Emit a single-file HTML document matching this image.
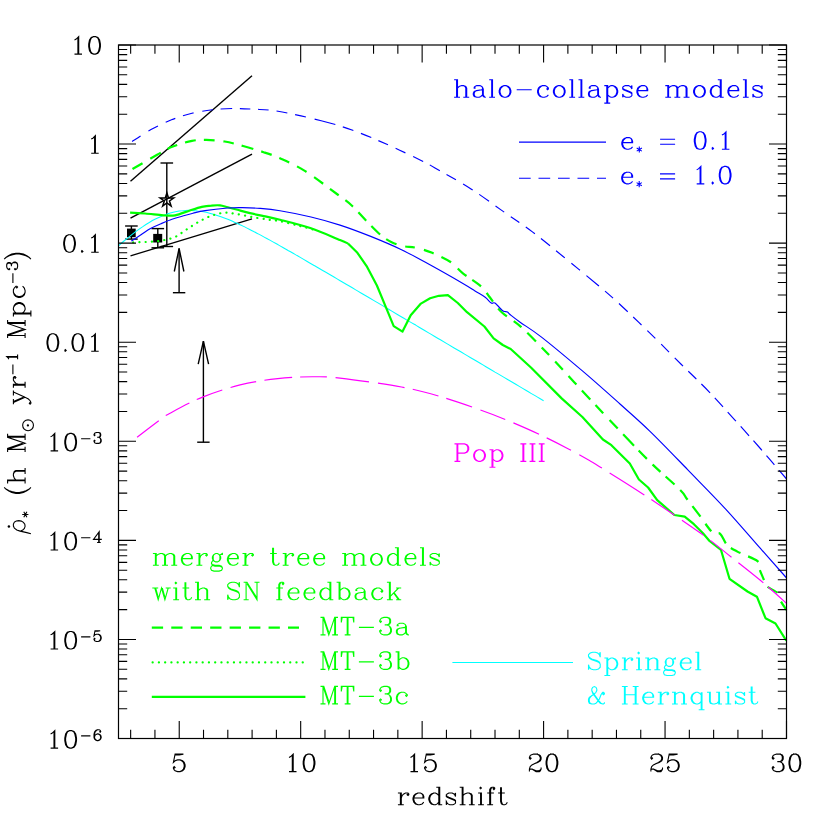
<!DOCTYPE html>
<html lang="en"><head><meta charset="utf-8"><title>Star formation rate density vs redshift</title>
<style>
html,body{margin:0;padding:0;background:#fff;}
body{width:830px;height:830px;overflow:hidden;font-family:"Liberation Serif",serif;}
#fig{position:relative;width:830px;height:830px;overflow:hidden;background:#fff;}
svg{display:block;position:absolute;left:0;top:0;font-family:"Liberation Serif",serif;}
.t{position:absolute;white-space:nowrap;font:26px/26px "Liberation Serif",serif;letter-spacing:2px;color:transparent;}
.t sup,.t sub{font-size:16px;line-height:0;}
</style></head><body>
<div id="fig">
<svg width="830" height="830" viewBox="0 0 830 830">
<rect width="830" height="830" fill="#fff"/>
<g id="data">
<line x1="130.5" y1="181.3" x2="252.0" y2="75.8" stroke="#000" stroke-width="1.4"/>
<line x1="130.5" y1="218.1" x2="252.0" y2="154.2" stroke="#000" stroke-width="1.4"/>
<line x1="130.5" y1="255.8" x2="252.0" y2="218.9" stroke="#000" stroke-width="1.4"/>
<line x1="131.4" y1="226.0" x2="131.4" y2="239.1" stroke="#000" stroke-width="1.4"/>
<line x1="125.1" y1="226.0" x2="137.7" y2="226.0" stroke="#000" stroke-width="1.4"/>
<line x1="125.1" y1="239.1" x2="137.7" y2="239.1" stroke="#000" stroke-width="1.4"/>
<rect x="127.0" y="228.6" width="8.7" height="8.6" fill="#000"/>
<line x1="157.8" y1="228.6" x2="157.8" y2="247.8" stroke="#000" stroke-width="1.4"/>
<line x1="151.5" y1="228.6" x2="164.1" y2="228.6" stroke="#000" stroke-width="1.4"/>
<line x1="151.5" y1="247.8" x2="164.1" y2="247.8" stroke="#000" stroke-width="1.4"/>
<rect x="153.2" y="233.9" width="9.0" height="8.6" fill="#000"/>
<line x1="166.8" y1="163.0" x2="166.8" y2="246.5" stroke="#000" stroke-width="1.4"/>
<line x1="160.5" y1="163.0" x2="173.1" y2="163.0" stroke="#000" stroke-width="1.4"/>
<line x1="160.5" y1="246.5" x2="173.1" y2="246.5" stroke="#000" stroke-width="1.4"/>
<polygon points="166.9 193.0 168.5 198.0 173.7 198.0 169.5 201.0 171.1 206.0 166.9 202.9 162.7 206.0 164.3 201.0 160.1 198.0 165.3 198.0" fill="none" stroke="#000" stroke-width="1.5"/>
<line x1="179.1" y1="292.7" x2="179.1" y2="248.5" stroke="#000" stroke-width="1.4"/>
<line x1="172.9" y1="292.7" x2="185.3" y2="292.7" stroke="#000" stroke-width="1.4"/>
<path d="M174.3 271.5L179.1 248.5L183.9 271.5" fill="none" stroke="#000" stroke-width="1.4"/>
<line x1="203.4" y1="442.2" x2="203.4" y2="341.2" stroke="#000" stroke-width="1.4"/>
<line x1="197.2" y1="442.2" x2="209.6" y2="442.2" stroke="#000" stroke-width="1.4"/>
<path d="M198.2 364.2L203.4 341.2L208.6 364.2" fill="none" stroke="#000" stroke-width="1.4"/>
</g>
<g id="curves" stroke-linejoin="round">
<path d="M118.5 245.8C119.5 244.9 122.5 242.2 124.6 240.5C126.6 238.8 128.6 237.2 130.6 235.6C132.7 233.9 134.7 232.4 136.7 230.9C138.7 229.4 140.8 227.9 142.8 226.6C144.8 225.2 146.8 223.9 148.9 222.7C150.9 221.5 152.9 220.3 154.9 219.3C157.0 218.2 159.0 217.2 161.0 216.4C163.0 215.5 165.1 214.7 167.1 214.0C169.1 213.3 171.1 212.7 173.2 212.2C175.2 211.8 177.2 211.4 179.2 211.1C181.3 210.8 183.3 210.6 185.3 210.4C187.3 210.3 189.3 210.3 191.4 210.4C193.4 210.5 195.4 210.6 197.4 210.9C199.5 211.1 201.5 211.4 203.5 211.8C205.5 212.2 207.6 212.7 209.6 213.2C211.6 213.7 213.6 214.3 215.7 214.9C217.7 215.6 219.7 216.3 221.7 217.0C223.8 217.7 225.8 218.5 227.8 219.3C229.8 220.2 231.9 221.0 233.9 221.9C235.9 222.8 237.9 223.8 240.0 224.7C242.0 225.7 244.0 226.6 246.0 227.6C248.1 228.6 250.1 229.7 252.1 230.7C254.1 231.7 256.1 232.8 258.2 233.9C260.2 234.9 262.2 236.0 264.2 237.1C266.3 238.2 268.3 239.3 270.3 240.4C272.3 241.5 274.4 242.7 276.4 243.8C278.4 244.9 280.4 246.1 282.5 247.2C284.5 248.4 286.5 249.5 288.5 250.7C290.6 251.8 292.6 253.0 294.6 254.1C296.6 255.3 298.7 256.5 300.7 257.6C302.7 258.8 304.7 260.0 306.8 261.2C308.8 262.3 310.8 263.5 312.8 264.7C314.9 265.9 316.9 267.0 318.9 268.2C320.9 269.4 322.9 270.6 325.0 271.8C327.0 273.0 329.0 274.2 331.0 275.3C333.1 276.5 335.1 277.7 337.1 278.9C339.1 280.1 341.2 281.3 343.2 282.5C345.2 283.7 347.2 284.9 349.3 286.0C351.3 287.2 353.3 288.4 355.3 289.6C357.4 290.8 359.4 292.0 361.4 293.2C363.4 294.4 365.5 295.6 367.5 296.8C369.5 298.0 371.5 299.2 373.6 300.4C375.6 301.6 377.6 302.7 379.6 303.9C381.7 305.1 383.7 306.3 385.7 307.5C387.7 308.7 389.7 309.9 391.8 311.1C393.8 312.3 395.8 313.5 397.8 314.7C399.9 315.9 401.9 317.1 403.9 318.3C405.9 319.5 408.0 320.7 410.0 321.9C412.0 323.1 414.0 324.2 416.1 325.4C418.1 326.6 420.1 327.8 422.1 329.0C424.2 330.2 426.2 331.4 428.2 332.6C430.2 333.8 432.3 335.0 434.3 336.2C436.3 337.4 438.3 338.6 440.4 339.8C442.4 341.0 444.4 342.2 446.4 343.4C448.5 344.6 450.5 345.8 452.5 347.0C454.5 348.1 456.5 349.3 458.6 350.5C460.6 351.7 462.6 352.9 464.6 354.1C466.7 355.3 468.7 356.5 470.7 357.7C472.7 358.9 474.8 360.1 476.8 361.3C478.8 362.5 480.8 363.7 482.9 364.9C484.9 366.1 486.9 367.3 488.9 368.5C491.0 369.7 493.0 370.9 495.0 372.1C497.0 373.2 499.1 374.4 501.1 375.6C503.1 376.8 505.1 378.0 507.2 379.2C509.2 380.4 511.2 381.6 513.2 382.8C515.3 384.0 517.3 385.2 519.3 386.4C521.3 387.6 523.3 388.8 525.4 390.0C527.4 391.2 529.4 392.4 531.4 393.6C533.5 394.8 535.5 396.0 537.5 397.1C539.5 398.3 542.6 400.1 543.6 400.7" fill="none" stroke="#00ffff" stroke-width="1.05"/>
<path d="M133.1 242.4C134.1 242.4 137.0 242.3 139.1 242.2C141.2 242.1 142.5 242.2 145.7 242.0C148.8 241.8 154.9 241.5 158.0 241.2C161.1 240.9 162.3 240.4 164.4 240.0C166.5 239.6 168.4 239.2 170.4 238.6C172.4 238.0 174.4 237.3 176.2 236.4C178.0 235.5 179.5 234.3 181.3 233.1C183.1 231.9 185.2 230.4 187.0 229.2C188.8 228.0 190.3 227.0 192.1 225.9C193.8 224.8 195.7 223.6 197.5 222.5C199.3 221.4 201.1 220.5 203.0 219.5C204.9 218.5 207.0 217.5 209.0 216.7C211.0 215.9 212.4 215.4 215.0 214.7C217.6 214.0 221.0 212.8 224.7 212.7C228.4 212.6 232.2 213.2 237.0 214.0C241.8 214.8 247.9 216.3 253.4 217.3C258.9 218.3 265.4 219.2 269.8 219.8C274.2 220.5 275.0 220.2 280.0 221.2C285.0 222.2 293.7 224.4 300.0 226.0C306.3 227.6 315.0 230.2 318.0 231.0" fill="none" stroke="#00ff00" stroke-width="2.2" stroke-dasharray="0.1 6.16" stroke-linecap="round"/>
<path d="M132.5 169.0C135.6 167.2 144.5 162.0 151.0 158.3C157.5 154.7 164.7 150.0 171.5 147.1C178.3 144.2 186.2 142.1 192.0 140.9C197.8 139.7 200.9 139.8 206.3 139.9C211.8 140.0 218.6 140.5 224.7 141.5C230.8 142.5 236.6 144.2 243.1 146.0C249.6 147.8 257.5 150.1 263.6 152.2C269.8 154.2 273.1 155.2 280.0 158.3C286.9 161.4 295.2 164.9 304.8 170.9C314.4 176.9 329.7 188.7 337.6 194.5C345.5 200.3 347.3 201.4 352.0 205.7C356.7 210.0 361.4 215.8 366.0 220.5C370.6 225.2 375.3 230.4 379.5 234.0C383.7 237.6 387.2 240.1 391.2 242.1C395.2 244.1 399.4 245.3 403.5 246.2C407.6 247.1 411.0 246.6 415.8 247.7C420.6 248.8 426.4 250.4 432.2 252.8C438.0 255.2 445.5 258.6 450.6 262.0C455.7 265.4 457.8 269.2 462.9 273.3C468.0 277.4 476.8 282.6 481.3 286.6C485.8 290.6 486.6 293.2 490.0 297.5C493.4 301.8 496.8 307.6 502.0 312.5C507.2 317.4 513.4 320.1 521.0 326.9C528.6 333.7 538.7 344.3 547.6 353.5C556.5 362.7 565.0 372.3 574.2 382.2C583.4 392.1 593.5 402.9 602.9 412.9C612.3 422.9 622.2 433.4 630.5 442.0C638.8 450.6 644.4 456.6 652.7 464.6C661.0 472.6 674.4 484.1 680.1 489.8C685.8 495.5 684.0 495.0 687.0 499.0C690.0 503.0 694.2 508.4 698.4 513.9C702.6 519.4 708.6 528.9 712.2 532.2C715.8 535.5 717.7 531.7 720.2 533.8C722.7 535.9 724.1 541.8 727.0 544.8C729.9 547.8 732.3 548.9 737.4 551.6C742.5 554.4 754.1 558.3 757.8 561.3C761.5 564.3 758.6 566.4 759.6 569.4C760.6 572.4 762.7 576.7 763.6 579.2C764.5 581.7 764.6 583.1 765.2 584.3C765.8 585.5 765.1 585.3 767.0 586.6C768.9 587.9 774.7 590.8 776.6 592.2C778.5 593.6 777.9 593.3 778.6 594.8C779.3 596.3 779.4 598.6 780.7 601.1C782.0 603.6 785.5 608.5 786.4 610.0" fill="none" stroke="#00ff00" stroke-width="2.2" stroke-dasharray="11.6 8.9 12.2 7.6 10.5 8.0 10.9 8.6 10.6 8.8 10.8 8.0 12.1 8.1 11.2 8.3 11.0 8.6 11.2 9.0 11.1 8.5 10.7 8.4 10.1 7.8 11.4 7.5 12.1 7.7 11.6 8.9 9.8 9.3 10.5 8.4 11.0 9.2 11.6 6.9 10.8 8.7 10.9 8.6 11.8 8.3 9.8 8.0 12.3 8.2 10.7 9.0 11.4 8.4 11.5 8.1 12.2 7.5 11.4 9.2 11.8 7.6 15.7 6.8 12.3 7.7 10.8 6.9 12.0 7.8 12.5 7.9 13.4 8.5 9.4 8.3 12.6 7.0 11.1 8.1 11.6 8.9 10.6 8.2 11.2 10.0 10.5"/>
<path d="M130.1 212.7C132.6 212.8 139.6 213.1 145.1 213.5C150.6 213.9 158.2 215.0 163.2 215.3C168.2 215.6 170.8 216.1 175.2 215.3C179.5 214.5 184.9 212.1 189.3 210.7C193.7 209.3 198.1 207.8 201.8 206.9C205.5 206.1 208.4 205.8 211.4 205.6C214.4 205.3 217.4 205.1 220.1 205.4C222.8 205.7 224.9 206.6 227.8 207.3C230.7 208.0 233.8 208.8 237.5 209.8C241.2 210.8 245.7 212.1 250.0 213.1C254.3 214.1 258.6 215.0 263.6 216.1C268.6 217.2 272.1 217.8 280.0 219.8C287.9 221.8 301.0 224.9 311.0 228.3C321.0 231.7 333.8 237.5 340.0 240.0C346.2 242.5 346.7 242.9 348.0 243.5" fill="none" stroke="#00ff00" stroke-width="2.2"/>
<path d="M348.0 243.5L357.4 252.8L366.6 266.1L376.9 285.5L387.1 310.1L393.7 326.1L402.5 331.6L410.7 315.2L420.9 303.6L430.1 298.2L438.9 295.8L447.9 295.2L457.8 303.0L467.0 312.2L484.4 326.5L493.6 338.4L502.8 345.0L510.7 349.0L531.2 367.8L561.9 398.6L582.4 417.0L602.9 439.5L611.4 445.2L629.8 463.5L638.9 479.5L648.1 487.5L657.2 500.1L674.4 515.0L684.7 516.6L693.9 524.2L703.0 533.3L709.5 541.0L721.0 550.0L729.5 578.8L747.5 591.5L756.9 596.7L765.5 618.2L775.5 623.5L786.3 640.7" fill="none" stroke="#00ff00" stroke-width="2.2"/>
<path d="M131.3 241.1C132.9 240.0 137.8 236.8 141.0 234.7C144.2 232.6 147.2 230.2 150.5 228.4C153.8 226.6 157.4 225.2 161.0 223.7C164.6 222.2 168.4 220.6 172.0 219.3C175.6 218.0 179.3 217.0 182.8 216.0C186.3 215.0 189.3 214.1 193.0 213.2C196.7 212.3 199.2 211.5 205.0 210.6C210.8 209.7 221.6 208.5 227.8 208.0C234.0 207.5 236.9 207.5 242.3 207.6C247.7 207.7 253.7 207.9 260.0 208.4C266.3 208.9 271.5 209.3 280.0 210.7C288.5 212.1 301.0 214.6 311.0 217.0C321.0 219.4 330.1 221.9 340.0 225.1C349.9 228.3 360.4 232.3 370.7 236.4C380.9 240.5 391.2 244.8 401.5 249.7C411.8 254.6 422.0 260.5 432.2 266.1C442.4 271.7 455.8 279.4 462.9 283.5C470.0 287.6 471.3 288.7 475.0 291.0C478.7 293.3 482.5 295.3 485.2 297.3C487.9 299.3 489.7 302.1 491.3 303.1C492.9 304.1 493.1 301.9 494.9 303.1C496.7 304.3 500.5 308.9 502.1 310.3C503.7 311.7 503.6 311.2 504.5 311.5C505.4 311.8 506.4 311.5 507.5 312.1C508.6 312.8 508.9 313.6 511.1 315.4C513.3 317.2 515.7 319.1 520.8 322.7C525.9 326.3 531.2 329.1 541.5 337.1C551.8 345.1 569.3 359.8 582.4 370.9C595.5 382.0 608.7 393.9 620.0 404.0C631.3 414.1 638.7 420.4 650.0 431.3C661.3 442.2 675.0 456.6 687.6 469.6C700.2 482.6 713.8 496.2 725.9 509.3C738.0 522.4 750.1 536.8 760.2 548.2C770.3 559.7 782.2 573.0 786.6 578.0" fill="none" stroke="#0000ff" stroke-width="1.15"/>
<path d="M132.1 141.5C135.2 139.5 144.4 133.2 151.0 129.6C157.6 126.0 164.7 122.5 171.5 119.8C178.3 117.1 185.2 115.0 192.0 113.3C198.8 111.6 205.6 110.6 212.4 109.8C219.2 109.0 226.1 108.6 232.9 108.5C239.7 108.4 245.9 108.8 253.4 109.2C260.9 109.7 266.7 109.3 278.0 111.2C289.3 113.1 308.9 117.6 321.2 120.7C333.5 123.8 341.1 126.1 352.0 130.0C362.9 133.9 375.2 139.2 386.8 144.3C398.4 149.4 413.6 156.8 421.6 160.7C429.6 164.6 426.8 163.2 435.0 167.9C443.2 172.6 459.9 181.8 471.0 188.9C482.1 196.0 491.5 203.2 501.7 210.4C511.9 217.6 522.2 224.2 532.4 231.9C542.6 239.6 552.2 247.6 563.1 256.5C574.0 265.4 588.5 277.2 598.0 285.2C607.5 293.2 610.5 295.7 620.0 304.5C629.5 313.3 644.6 327.9 654.8 337.9C665.0 347.9 672.3 355.5 681.4 364.5C690.5 373.5 700.2 382.6 709.1 391.8C718.0 401.0 726.1 410.3 734.7 419.8C743.3 429.3 754.3 441.6 760.8 449.0C767.3 456.4 769.3 458.9 773.6 463.9C777.9 468.9 784.4 476.5 786.6 479.0" fill="none" stroke="#0000ff" stroke-width="1.15" stroke-dasharray="10.1 9.1 11.0 8.5 10.4 8.1 11.0 8.9 10.7 7.7 11.6 7.7 10.6 7.7 10.6 8.0 10.9 8.0 10.9 8.8 21.6 8.1 11.0 8.2 11.0 7.7 10.6 8.5 10.6 8.5 11.1 7.7 11.8 7.5 10.7 8.2 11.3 7.8 12.2 8.0 10.6 8.0 10.4 7.9 11.3 7.7 11.7 7.9 11.2 8.4 11.1 8.2 16.3 8.0 10.8 8.1 11.9 7.6 11.4 8.1 11.2 8.2 11.2 8.2 11.6 7.4 11.2 7.0 12.4 6.8 12.3 7.0 12.4 7.2 12.3 6.5 12.7 7.0 12.5 7.2 11.6"/>
<path d="M137.1 437.2C140.7 434.4 153.8 424.5 158.9 420.7C164.0 416.9 160.5 418.3 167.8 414.4C175.1 410.5 190.4 402.0 202.5 397.1C214.6 392.2 227.6 388.0 240.1 384.9C252.6 381.8 265.6 380.0 277.7 378.6C289.8 377.2 302.0 376.9 312.4 376.8C322.8 376.7 325.1 376.4 340.0 378.1C354.9 379.8 384.8 383.9 401.5 387.0C418.2 390.1 426.9 392.7 440.0 396.5C453.1 400.3 468.9 405.9 480.0 409.8C491.1 413.7 496.7 415.9 506.6 420.0C516.5 424.1 529.2 429.6 539.4 434.4C549.6 439.2 559.8 444.4 568.0 448.7C576.2 453.0 583.3 457.0 588.6 460.0C593.9 463.0 590.9 461.2 600.0 466.9C609.1 472.6 626.7 483.3 643.5 494.4C660.3 505.5 686.0 522.8 700.7 533.3C715.4 543.8 721.7 549.6 731.6 557.4C741.5 565.2 751.1 572.6 760.3 580.3C769.5 588.0 782.2 599.5 786.6 603.4" fill="none" stroke="#ff00ff" stroke-width="1.15" stroke-dasharray="27.1 8.9 26.7 8.0 27.4 8.6 26.3 8.3 27.9 7.9 27.1 8.6 33.7 8.9 26.8 8.6 26.7 8.3 26.9 8.9 26.7 9.1 27.7 8.4 27.2 9.6 26.6 8.9 41.1 8.6 27.6 8.8 26.3 8.7 27.1 8.6 32.5 6.3 24.5"/>
<path d="M519 142.1H606" fill="none" stroke="#0000ff" stroke-width="1.15"/>
<path d="M519 178.2H606" fill="none" stroke="#0000ff" stroke-width="1.15" stroke-dasharray="11.7 7.8"/>
<path d="M151.8 627.6H299" fill="none" stroke="#00ff00" stroke-width="2.2" stroke-dasharray="11.3 8.16"/>
<path d="M152.6 662.4H303" fill="none" stroke="#00ff00" stroke-width="2.2" stroke-dasharray="0.1 6.154" stroke-linecap="round"/>
<path d="M151.8 696.8H305.4" fill="none" stroke="#00ff00" stroke-width="2.2"/>
<path d="M452.4 662.5H573" fill="none" stroke="#00ffff" stroke-width="1.05"/>
</g>
<g id="axes">
<rect x="118.5" y="45.0" width="668.0" height="693.5" fill="none" stroke="#000" stroke-width="1.2"/>
<path d="M130.65 45.0v8.7M130.65 738.5v-8.7M154.94 45.0v8.7M154.94 738.5v-8.7M179.23 45.0v17.5M179.23 738.5v-17.5M203.52 45.0v8.7M203.52 738.5v-8.7M227.81 45.0v8.7M227.81 738.5v-8.7M252.10 45.0v8.7M252.10 738.5v-8.7M276.39 45.0v8.7M276.39 738.5v-8.7M300.68 45.0v17.5M300.68 738.5v-17.5M324.97 45.0v8.7M324.97 738.5v-8.7M349.26 45.0v8.7M349.26 738.5v-8.7M373.55 45.0v8.7M373.55 738.5v-8.7M397.85 45.0v8.7M397.85 738.5v-8.7M422.14 45.0v17.5M422.14 738.5v-17.5M446.43 45.0v8.7M446.43 738.5v-8.7M470.72 45.0v8.7M470.72 738.5v-8.7M495.01 45.0v8.7M495.01 738.5v-8.7M519.30 45.0v8.7M519.30 738.5v-8.7M543.59 45.0v17.5M543.59 738.5v-17.5M567.88 45.0v8.7M567.88 738.5v-8.7M592.17 45.0v8.7M592.17 738.5v-8.7M616.46 45.0v8.7M616.46 738.5v-8.7M640.75 45.0v8.7M640.75 738.5v-8.7M665.05 45.0v17.5M665.05 738.5v-17.5M689.34 45.0v8.7M689.34 738.5v-8.7M713.63 45.0v8.7M713.63 738.5v-8.7M737.92 45.0v8.7M737.92 738.5v-8.7M762.21 45.0v8.7M762.21 738.5v-8.7M786.50 45.0v17.5M786.50 738.5v-17.5M118.5 45.00h17.5M786.5 45.00h-17.5M118.5 114.25h8.7M786.5 114.25h-8.7M118.5 96.80h8.7M786.5 96.80h-8.7M118.5 84.42h8.7M786.5 84.42h-8.7M118.5 74.82h8.7M786.5 74.82h-8.7M118.5 66.98h8.7M786.5 66.98h-8.7M118.5 60.35h8.7M786.5 60.35h-8.7M118.5 54.60h8.7M786.5 54.60h-8.7M118.5 49.53h8.7M786.5 49.53h-8.7M118.5 144.07h17.5M786.5 144.07h-17.5M118.5 213.32h8.7M786.5 213.32h-8.7M118.5 195.87h8.7M786.5 195.87h-8.7M118.5 183.50h8.7M786.5 183.50h-8.7M118.5 173.89h8.7M786.5 173.89h-8.7M118.5 166.05h8.7M786.5 166.05h-8.7M118.5 159.42h8.7M786.5 159.42h-8.7M118.5 153.67h8.7M786.5 153.67h-8.7M118.5 148.60h8.7M786.5 148.60h-8.7M118.5 243.14h17.5M786.5 243.14h-17.5M118.5 312.39h8.7M786.5 312.39h-8.7M118.5 294.95h8.7M786.5 294.95h-8.7M118.5 282.57h8.7M786.5 282.57h-8.7M118.5 272.97h8.7M786.5 272.97h-8.7M118.5 265.12h8.7M786.5 265.12h-8.7M118.5 258.49h8.7M786.5 258.49h-8.7M118.5 252.74h8.7M786.5 252.74h-8.7M118.5 247.68h8.7M786.5 247.68h-8.7M118.5 342.21h17.5M786.5 342.21h-17.5M118.5 411.46h8.7M786.5 411.46h-8.7M118.5 394.02h8.7M786.5 394.02h-8.7M118.5 381.64h8.7M786.5 381.64h-8.7M118.5 372.04h8.7M786.5 372.04h-8.7M118.5 364.19h8.7M786.5 364.19h-8.7M118.5 357.56h8.7M786.5 357.56h-8.7M118.5 351.82h8.7M786.5 351.82h-8.7M118.5 346.75h8.7M786.5 346.75h-8.7M118.5 441.29h17.5M786.5 441.29h-17.5M118.5 510.53h8.7M786.5 510.53h-8.7M118.5 493.09h8.7M786.5 493.09h-8.7M118.5 480.71h8.7M786.5 480.71h-8.7M118.5 471.11h8.7M786.5 471.11h-8.7M118.5 463.26h8.7M786.5 463.26h-8.7M118.5 456.63h8.7M786.5 456.63h-8.7M118.5 450.89h8.7M786.5 450.89h-8.7M118.5 445.82h8.7M786.5 445.82h-8.7M118.5 540.36h17.5M786.5 540.36h-17.5M118.5 609.61h8.7M786.5 609.61h-8.7M118.5 592.16h8.7M786.5 592.16h-8.7M118.5 579.78h8.7M786.5 579.78h-8.7M118.5 570.18h8.7M786.5 570.18h-8.7M118.5 562.34h8.7M786.5 562.34h-8.7M118.5 555.70h8.7M786.5 555.70h-8.7M118.5 549.96h8.7M786.5 549.96h-8.7M118.5 544.89h8.7M786.5 544.89h-8.7M118.5 639.43h17.5M786.5 639.43h-17.5M118.5 708.68h8.7M786.5 708.68h-8.7M118.5 691.23h8.7M786.5 691.23h-8.7M118.5 678.85h8.7M786.5 678.85h-8.7M118.5 669.25h8.7M786.5 669.25h-8.7M118.5 661.41h8.7M786.5 661.41h-8.7M118.5 654.77h8.7M786.5 654.77h-8.7M118.5 649.03h8.7M786.5 649.03h-8.7M118.5 643.96h8.7M786.5 643.96h-8.7M118.5 738.50h17.5M786.5 738.50h-17.5" stroke="#000" stroke-width="1.1" fill="none"/>
</g>
<g id="labels">
<g fill="none" stroke="#000000" stroke-width="1.1" stroke-linecap="butt" stroke-linejoin="miter"><title>redshift | 5 | 10 | 15 | 20 | 25 | 30 | 10 | 1 | 0.1 | 0.01 | 10^−3 | 10^−4 | 10^−5 | 10^−6 | ρ̇* (h M⊙ yr^−1 Mpc^−3)</title><path d="M400.4 793.0L400.4 804.7M401.3 804.7L401.3 793.0L397.9 793.0M397.9 804.7L403.8 804.7M401.3 798.0L402.1 795.5L403.8 793.9L405.5 793.0L408.0 793.0L408.8 793.9L408.8 794.7L408.0 795.5L407.1 794.7L408.0 793.9M423.0 798.0L423.0 795.5L422.1 793.9L420.5 793.0L418.0 793.0L415.5 793.9L413.8 795.5L413.0 798.0L413.0 799.7L413.8 802.2L415.5 803.9L418.0 804.7L419.6 804.7L422.1 803.9L423.8 802.2M413.8 798.0L423.8 798.0L423.8 796.4L423.0 794.7L422.1 793.9M413.8 798.0L414.6 795.5L416.3 793.9L418.0 793.0M413.8 798.0L413.8 799.7L414.6 802.2L416.3 803.9L418.0 804.7M438.8 787.2L438.8 804.7L442.2 804.7M439.7 804.7L439.7 787.2L436.3 787.2M438.8 795.5L437.2 793.9L435.5 793.0L433.8 793.0L431.3 793.9L429.7 795.5L428.8 798.0L428.8 799.7L429.7 802.2L431.3 803.9L433.8 804.7L435.5 804.7L437.2 803.9L438.8 802.2M433.8 793.0L432.2 793.9L430.5 795.5L429.7 798.0L429.7 799.7L430.5 802.2L432.2 803.9L433.8 804.7M446.3 795.5L447.2 796.4L448.8 797.2L453.0 798.9L454.7 799.7L455.5 800.5L455.5 803.0L454.7 803.9L453.0 804.7L449.7 804.7L448.0 803.9L447.2 803.0L446.3 801.4L446.3 804.7L447.2 803.0M455.5 801.4L454.7 800.5L453.0 799.7L448.8 798.0L447.2 797.2L446.3 796.4L446.3 794.7L447.2 793.9L448.8 793.0L452.2 793.0L453.9 793.9L454.7 794.7L455.5 796.4L455.5 793.0L454.7 794.7M462.2 787.2L462.2 804.7M463.0 804.7L463.0 787.2L459.7 787.2M471.4 804.7L471.4 795.5L470.5 793.9L468.9 793.0L467.2 793.0L464.7 793.9L463.0 795.5M472.2 804.7L472.2 795.5L471.4 793.9L468.9 793.0M459.7 804.7L465.5 804.7M468.9 804.7L474.7 804.7M480.6 793.0L480.6 804.7M481.4 804.7L481.4 793.0L478.1 793.0M478.1 804.7L483.9 804.7M479.7 788.0L480.6 787.2L481.4 788.0L480.6 788.8L479.7 788.0M489.7 804.7L489.7 789.7L490.6 788.0L492.2 787.2L493.9 787.2L494.7 788.0L494.7 788.8L493.9 789.7L493.1 788.8L493.9 788.0M490.6 804.7L490.6 789.7L491.4 788.0L492.2 787.2M487.2 793.0L493.9 793.0M487.2 804.7L493.1 804.7M500.6 787.2L500.6 801.4L501.4 803.9L503.1 804.7L504.8 804.7L506.4 803.9L507.3 802.2M501.4 787.2L501.4 801.4L502.3 803.9L503.1 804.7M498.1 793.0L504.8 793.0M175.1 754.9L179.2 754.9L183.4 754.1L175.1 754.1L173.4 762.4L175.1 760.8L177.6 759.9L180.1 759.9L182.6 760.8L184.2 762.4L185.1 764.9L185.1 766.6L184.2 769.1L182.6 770.8L180.1 771.6L177.6 771.6L175.1 770.8L174.2 769.9L173.4 768.3L173.4 767.4L174.2 766.6L175.1 767.4L174.2 768.3M180.1 759.9L181.7 760.8L183.4 762.4L184.2 764.9L184.2 766.6L183.4 769.1L181.7 770.8L180.1 771.6M293.2 771.6L293.2 754.1L290.7 756.6L289.0 757.4M292.3 754.9L292.3 771.6M289.0 771.6L296.5 771.6M308.2 754.1L305.7 754.9L304.0 757.4L303.2 761.6L303.2 764.1L304.0 768.3L305.7 770.8L308.2 771.6L309.9 771.6L312.4 770.8L314.0 768.3L314.9 764.1L314.9 761.6L314.0 757.4L312.4 754.9L309.9 754.1L308.2 754.1L306.5 754.9L305.7 755.7L304.9 757.4L304.0 761.6L304.0 764.1L304.9 768.3L305.7 769.9L306.5 770.8L308.2 771.6M309.9 754.1L311.5 754.9L312.4 755.7L313.2 757.4L314.0 761.6L314.0 764.1L313.2 768.3L312.4 769.9L311.5 770.8L309.9 771.6M414.6 771.6L414.6 754.1L412.1 756.6L410.5 757.4M413.8 754.9L413.8 771.6M410.5 771.6L418.0 771.6M426.3 754.9L430.5 754.9L434.7 754.1L426.3 754.1L424.6 762.4L426.3 760.8L428.8 759.9L431.3 759.9L433.8 760.8L435.5 762.4L436.3 764.9L436.3 766.6L435.5 769.1L433.8 770.8L431.3 771.6L428.8 771.6L426.3 770.8L425.5 769.9L424.6 768.3L424.6 767.4L425.5 766.6L426.3 767.4L425.5 768.3M431.3 759.9L433.0 760.8L434.7 762.4L435.5 764.9L435.5 766.6L434.7 769.1L433.0 770.8L431.3 771.6M533.6 764.1L537.7 762.4L540.3 760.8L541.1 759.1L541.1 757.4L540.3 755.7L539.4 754.9L536.9 754.1L533.6 754.1L531.1 754.9L530.2 755.7L529.4 757.4L529.4 758.2L530.2 759.1L531.1 758.2L530.2 757.4M529.4 771.6L529.4 769.1L530.2 766.6L531.9 764.9L536.9 762.4L539.4 760.8L540.3 759.1L540.3 757.4L539.4 755.7L538.6 754.9L536.9 754.1M541.1 767.4L541.1 769.1L540.3 770.8L539.4 771.6L536.1 771.6L531.9 769.1L530.2 769.1L529.4 769.9M531.9 769.1L536.1 770.8L538.6 770.8L540.3 769.9L541.1 769.1M551.1 754.1L548.6 754.9L546.9 757.4L546.1 761.6L546.1 764.1L546.9 768.3L548.6 770.8L551.1 771.6L552.8 771.6L555.3 770.8L556.9 768.3L557.8 764.1L557.8 761.6L556.9 757.4L555.3 754.9L552.8 754.1L551.1 754.1L549.4 754.9L548.6 755.7L547.8 757.4L546.9 761.6L546.9 764.1L547.8 768.3L548.6 769.9L549.4 770.8L551.1 771.6M552.8 754.1L554.4 754.9L555.3 755.7L556.1 757.4L556.9 761.6L556.9 764.1L556.1 768.3L555.3 769.9L554.4 770.8L552.8 771.6M655.0 764.1L659.2 762.4L661.7 760.8L662.5 759.1L662.5 757.4L661.7 755.7L660.9 754.9L658.4 754.1L655.0 754.1L652.5 754.9L651.7 755.7L650.9 757.4L650.9 758.2L651.7 759.1L652.5 758.2L651.7 757.4M650.9 771.6L650.9 769.1L651.7 766.6L653.4 764.9L658.4 762.4L660.9 760.8L661.7 759.1L661.7 757.4L660.9 755.7L660.0 754.9L658.4 754.1M662.5 767.4L662.5 769.1L661.7 770.8L660.9 771.6L657.5 771.6L653.4 769.1L651.7 769.1L650.9 769.9M653.4 769.1L657.5 770.8L660.0 770.8L661.7 769.9L662.5 769.1M669.2 754.9L673.4 754.9L677.6 754.1L669.2 754.1L667.5 762.4L669.2 760.8L671.7 759.9L674.2 759.9L676.7 760.8L678.4 762.4L679.2 764.9L679.2 766.6L678.4 769.1L676.7 770.8L674.2 771.6L671.7 771.6L669.2 770.8L668.4 769.9L667.5 768.3L667.5 767.4L668.4 766.6L669.2 767.4L668.4 768.3M674.2 759.9L675.9 760.8L677.6 762.4L678.4 764.9L678.4 766.6L677.6 769.1L675.9 770.8L674.2 771.6M782.3 763.3L783.2 765.8L783.2 768.3L782.3 769.9L781.5 770.8L779.8 771.6L776.5 771.6L774.0 770.8L773.1 769.9L772.3 768.3L772.3 767.4L773.1 766.6L774.0 767.4L773.1 768.3M777.3 761.6L779.8 761.6L782.3 760.8L783.2 759.1L783.2 756.6L782.3 754.9L779.8 754.1L776.5 754.1L774.0 754.9L773.1 755.7L772.3 757.4L772.3 758.2L773.1 759.1L774.0 758.2L773.1 757.4M779.8 754.1L781.5 754.9L782.3 756.6L782.3 759.1L781.5 760.8L779.8 761.6L781.5 762.4L783.2 764.1L784.0 765.8L784.0 768.3L783.2 769.9L782.3 770.8L779.8 771.6M794.0 754.1L791.5 754.9L789.8 757.4L789.0 761.6L789.0 764.1L789.8 768.3L791.5 770.8L794.0 771.6L795.7 771.6L798.2 770.8L799.9 768.3L800.7 764.1L800.7 761.6L799.9 757.4L798.2 754.9L795.7 754.1L794.0 754.1L792.3 754.9L791.5 755.7L790.7 757.4L789.8 761.6L789.8 764.1L790.7 768.3L791.5 769.9L792.3 770.8L794.0 771.6M795.7 754.1L797.3 754.9L798.2 755.7L799.0 757.4L799.9 761.6L799.9 764.1L799.0 768.3L798.2 769.9L797.3 770.8L795.7 771.6M78.7 54.1L78.7 36.6L76.2 39.1L74.5 39.9M77.9 37.4L77.9 54.1M74.5 54.1L82.0 54.1M93.7 36.6L91.2 37.4L89.5 39.9L88.7 44.1L88.7 46.6L89.5 50.8L91.2 53.3L93.7 54.1L95.4 54.1L97.9 53.3L99.6 50.8L100.4 46.6L100.4 44.1L99.6 39.9L97.9 37.4L95.4 36.6L93.7 36.6L92.1 37.4L91.2 38.2L90.4 39.9L89.5 44.1L89.5 46.6L90.4 50.8L91.2 52.4L92.1 53.3L93.7 54.1M95.4 36.6L97.1 37.4L97.9 38.2L98.7 39.9L99.6 44.1L99.6 46.6L98.7 50.8L97.9 52.4L97.1 53.3L95.4 54.1M95.4 153.2L95.4 135.6L92.9 138.2L91.2 139.0M94.6 136.5L94.6 153.2M91.2 153.2L98.7 153.2M68.7 234.7L66.2 235.6L64.5 238.1L63.7 242.2L63.7 244.7L64.5 248.9L66.2 251.4L68.7 252.2L70.4 252.2L72.9 251.4L74.5 248.9L75.4 244.7L75.4 242.2L74.5 238.1L72.9 235.6L70.4 234.7L68.7 234.7L67.0 235.6L66.2 236.4L65.3 238.1L64.5 242.2L64.5 244.7L65.3 248.9L66.2 250.6L67.0 251.4L68.7 252.2M70.4 234.7L72.0 235.6L72.9 236.4L73.7 238.1L74.5 242.2L74.5 244.7L73.7 248.9L72.9 250.6L72.0 251.4L70.4 252.2M81.2 251.4L82.0 250.6L82.9 251.4L82.0 252.2L81.2 251.4M95.4 252.2L95.4 234.7L92.9 237.2L91.2 238.1M94.6 235.6L94.6 252.2M91.2 252.2L98.7 252.2M52.0 333.8L49.5 334.6L47.8 337.1L47.0 341.3L47.0 343.8L47.8 348.0L49.5 350.5L52.0 351.3L53.7 351.3L56.2 350.5L57.8 348.0L58.7 343.8L58.7 341.3L57.8 337.1L56.2 334.6L53.7 333.8L52.0 333.8L50.3 334.6L49.5 335.5L48.7 337.1L47.8 341.3L47.8 343.8L48.7 348.0L49.5 349.6L50.3 350.5L52.0 351.3M53.7 333.8L55.3 334.6L56.2 335.5L57.0 337.1L57.8 341.3L57.8 343.8L57.0 348.0L56.2 349.6L55.3 350.5L53.7 351.3M64.5 350.5L65.3 349.6L66.2 350.5L65.3 351.3L64.5 350.5M77.0 333.8L74.5 334.6L72.9 337.1L72.0 341.3L72.0 343.8L72.9 348.0L74.5 350.5L77.0 351.3L78.7 351.3L81.2 350.5L82.9 348.0L83.7 343.8L83.7 341.3L82.9 337.1L81.2 334.6L78.7 333.8L77.0 333.8L75.4 334.6L74.5 335.5L73.7 337.1L72.9 341.3L72.9 343.8L73.7 348.0L74.5 349.6L75.4 350.5L77.0 351.3M78.7 333.8L80.4 334.6L81.2 335.5L82.0 337.1L82.9 341.3L82.9 343.8L82.0 348.0L81.2 349.6L80.4 350.5L78.7 351.3M95.4 351.3L95.4 333.8L92.9 336.3L91.2 337.1M94.6 334.6L94.6 351.3M91.2 351.3L98.7 351.3M54.8 450.9L54.8 433.4L52.3 435.9L50.6 436.7M54.0 434.2L54.0 450.9M50.6 450.9L58.1 450.9M69.8 433.4L67.3 434.2L65.6 436.7L64.8 440.9L64.8 443.4L65.6 447.5L67.3 450.1L69.8 450.9L71.5 450.9L74.0 450.1L75.7 447.5L76.5 443.4L76.5 440.9L75.7 436.7L74.0 434.2L71.5 433.4L69.8 433.4L68.2 434.2L67.3 435.0L66.5 436.7L65.6 440.9L65.6 443.4L66.5 447.5L67.3 449.2L68.2 450.1L69.8 450.9M71.5 433.4L73.2 434.2L74.0 435.0L74.8 436.7L75.7 440.9L75.7 443.4L74.8 447.5L74.0 449.2L73.2 450.1L71.5 450.9M81.1 438.7L90.4 438.7M100.2 438.2L100.7 439.8L100.7 441.3L100.2 442.4L99.7 442.9L98.7 443.4L96.6 443.4L95.0 442.9L94.5 442.4L94.0 441.3L94.0 440.8L94.5 440.3L95.0 440.8L94.5 441.3M97.1 437.2L98.7 437.2L100.2 436.7L100.7 435.6L100.7 434.1L100.2 433.0L98.7 432.5L96.6 432.5L95.0 433.0L94.5 433.6L94.0 434.6L94.0 435.1L94.5 435.6L95.0 435.1L94.5 434.6M98.7 432.5L99.7 433.0L100.2 434.1L100.2 435.6L99.7 436.7L98.7 437.2L99.7 437.7L100.7 438.7L101.2 439.8L101.2 441.3L100.7 442.4L100.2 442.9L98.7 443.4M54.8 550.0L54.8 532.4L52.3 534.9L50.6 535.8M54.0 533.3L54.0 550.0M50.6 550.0L58.1 550.0M69.8 532.4L67.3 533.3L65.6 535.8L64.8 539.9L64.8 542.4L65.6 546.6L67.3 549.1L69.8 550.0L71.5 550.0L74.0 549.1L75.7 546.6L76.5 542.4L76.5 539.9L75.7 535.8L74.0 533.3L71.5 532.4L69.8 532.4L68.2 533.3L67.3 534.1L66.5 535.8L65.6 539.9L65.6 542.4L66.5 546.6L67.3 548.3L68.2 549.1L69.8 550.0M71.5 532.4L73.2 533.3L74.0 534.1L74.8 535.8L75.7 539.9L75.7 542.4L74.8 546.6L74.0 548.3L73.2 549.1L71.5 550.0M81.1 537.8L90.4 537.8M99.2 542.5L99.2 531.6L93.5 539.4L101.8 539.4M98.7 532.6L98.7 542.5M97.1 542.5L100.7 542.5M54.8 649.0L54.8 631.5L52.3 634.0L50.6 634.8M54.0 632.3L54.0 649.0M50.6 649.0L58.1 649.0M69.8 631.5L67.3 632.3L65.6 634.8L64.8 639.0L64.8 641.5L65.6 645.7L67.3 648.2L69.8 649.0L71.5 649.0L74.0 648.2L75.7 645.7L76.5 641.5L76.5 639.0L75.7 634.8L74.0 632.3L71.5 631.5L69.8 631.5L68.2 632.3L67.3 633.2L66.5 634.8L65.6 639.0L65.6 641.5L66.5 645.7L67.3 647.4L68.2 648.2L69.8 649.0M71.5 631.5L73.2 632.3L74.0 633.2L74.8 634.8L75.7 639.0L75.7 641.5L74.8 645.7L74.0 647.4L73.2 648.2L71.5 649.0M81.1 636.9L90.4 636.9M95.0 631.2L97.6 631.2L100.2 630.7L95.0 630.7L94.0 635.8L95.0 634.8L96.6 634.3L98.1 634.3L99.7 634.8L100.7 635.8L101.2 637.4L101.2 638.4L100.7 640.0L99.7 641.0L98.1 641.5L96.6 641.5L95.0 641.0L94.5 640.5L94.0 639.5L94.0 638.9L94.5 638.4L95.0 638.9L94.5 639.5M98.1 634.3L99.2 634.8L100.2 635.8L100.7 637.4L100.7 638.4L100.2 640.0L99.2 641.0L98.1 641.5M54.8 748.1L54.8 730.6L52.3 733.1L50.6 733.9M54.0 731.4L54.0 748.1M50.6 748.1L58.1 748.1M69.8 730.6L67.3 731.4L65.6 733.9L64.8 738.1L64.8 740.6L65.6 744.8L67.3 747.3L69.8 748.1L71.5 748.1L74.0 747.3L75.7 744.8L76.5 740.6L76.5 738.1L75.7 733.9L74.0 731.4L71.5 730.6L69.8 730.6L68.2 731.4L67.3 732.2L66.5 733.9L65.6 738.1L65.6 740.6L66.5 744.8L67.3 746.4L68.2 747.3L69.8 748.1M71.5 730.6L73.2 731.4L74.0 732.2L74.8 733.9L75.7 738.1L75.7 740.6L74.8 744.8L74.0 746.4L73.2 747.3L71.5 748.1M81.1 735.9L90.4 735.9M94.5 737.0L95.0 735.4L96.1 734.4L97.6 733.9L98.1 733.9L99.7 734.4L100.7 735.4L101.2 737.0L101.2 737.5L100.7 739.0L99.7 740.1L98.1 740.6L97.1 740.6L95.6 740.1L94.5 739.0L94.0 737.5L94.0 734.4L94.5 732.3L95.0 731.3L96.1 730.3L97.6 729.7L99.2 729.7L100.2 730.3L100.7 731.3L100.7 731.8L100.2 732.3L99.7 731.8L100.2 731.3M97.1 740.6L96.1 740.1L95.0 739.0L94.5 737.5L94.5 734.4L95.0 732.3L95.6 731.3L96.6 730.3L97.6 729.7M98.1 733.9L99.2 734.4L100.2 735.4L100.7 737.0L100.7 737.5L100.2 739.0L99.2 740.1L98.1 740.6M22.2 514.5L28.4 514.5M23.8 517.2L26.9 511.8M26.9 517.2L23.8 511.8M4.2 487.3L5.9 489.1L8.4 490.8L11.7 492.5L15.9 493.4L19.3 493.4L23.4 492.5L26.8 490.8L29.3 489.1L30.9 487.3M5.9 489.1L9.2 490.8L11.7 491.6L15.9 492.5L19.3 492.5L23.4 491.6L25.9 490.8L29.3 489.1M7.6 480.8L25.1 480.8M25.1 480.0L7.6 480.0L7.6 483.4M25.1 471.3L15.9 471.3L14.3 472.2L13.4 473.9L13.4 475.6L14.3 478.2L15.9 480.0M25.1 470.5L15.9 470.5L14.3 471.3L13.4 473.9M25.1 483.4L25.1 477.4M25.1 473.9L25.1 467.9M25.1 449.4L7.6 449.4L25.1 443.3L7.6 437.3L7.6 433.8M25.1 437.3L7.6 437.3M7.6 436.4L25.1 436.4M22.6 443.3L7.6 448.5L7.6 452.0M25.1 439.9L25.1 433.8M25.1 452.0L25.1 446.8M13.4 402.4L25.1 397.3L28.4 399.0L30.1 400.7L30.9 402.4L30.9 403.3L30.1 404.2L29.3 403.3L30.1 402.4M13.4 392.1L25.1 397.3M13.4 401.6L23.4 397.3M13.4 404.2L13.4 399.0M13.4 395.5L13.4 390.4M13.4 385.2L25.1 385.2M25.1 384.3L13.4 384.3L13.4 387.8M25.1 387.8L25.1 381.7M18.4 384.3L15.9 383.4L14.3 381.7L13.4 380.0L13.4 377.4L14.3 376.5L15.1 376.5L15.9 377.4L15.1 378.3L14.3 377.4M12.9 374.2L12.9 364.6M17.6 356.5L6.7 356.5L8.3 358.1L8.8 359.2M7.3 357.1L17.6 357.1M17.6 359.2L17.6 354.4M25.1 335.5L7.6 335.5L25.1 329.4L7.6 323.4L7.6 319.9M25.1 323.4L7.6 323.4M7.6 322.5L25.1 322.5M22.6 329.4L7.6 334.6L7.6 338.1M25.1 326.0L25.1 319.9M25.1 338.1L25.1 332.9M13.4 313.9L30.9 313.9M30.9 313.0L13.4 313.0L13.4 316.5M30.9 316.5L30.9 310.4M15.9 313.0L14.3 311.3L13.4 309.6L13.4 307.8L14.3 305.2L15.9 303.5L18.4 302.6L20.1 302.6L22.6 303.5L24.3 305.2L25.1 307.8L25.1 309.6L24.3 311.3L22.6 313.0M13.4 307.8L14.3 306.1L15.9 304.4L18.4 303.5L20.1 303.5L22.6 304.4L24.3 306.1L25.1 307.8M22.6 286.2L24.3 288.0L25.1 290.6L25.1 292.3L24.3 294.9L22.6 296.6L20.1 297.5L18.4 297.5L15.9 296.6L14.3 294.9L13.4 292.3L13.4 289.7L14.3 288.0L15.9 286.2L16.8 286.2L17.6 287.1L16.8 288.0L15.9 287.1M13.4 292.3L14.3 294.0L15.9 295.7L18.4 296.6L20.1 296.6L22.6 295.7L24.3 294.0L25.1 292.3M12.9 282.9L12.9 273.3M12.4 263.1L14.0 262.6L15.5 262.6L16.6 263.1L17.1 263.7L17.6 264.7L17.6 266.9L17.1 268.5L16.6 269.0L15.5 269.6L15.0 269.6L14.5 269.0L15.0 268.5L15.5 269.0M11.4 266.3L11.4 264.7L10.9 263.1L9.8 262.6L8.3 262.6L7.3 263.1L6.7 264.7L6.7 266.9L7.3 268.5L7.8 269.0L8.8 269.6L9.3 269.6L9.8 269.0L9.3 268.5L8.8 269.0M6.7 264.7L7.3 263.7L8.3 263.1L9.8 263.1L10.9 263.7L11.4 264.7L11.9 263.7L12.9 262.6L14.0 262.1L15.5 262.1L16.6 262.6L17.1 263.1L17.6 264.7M4.2 259.2L5.9 257.5L8.4 255.8L11.7 254.0L15.9 253.2L19.3 253.2L23.4 254.0L26.8 255.8L29.3 257.5L30.9 259.2M5.9 257.5L9.2 255.8L11.7 254.9L15.9 254.0L19.3 254.0L23.4 254.9L25.9 255.8L29.3 257.5M30.9 533.7L26.8 532.6L20.1 531.1L16.8 529.9L14.4 528.2L13.4 526.1L13.4 524.1L14.4 522.1L16.3 521.0L18.8 520.6L21.3 521.1L23.4 522.4L24.8 524.2L25.1 526.3L24.4 528.4L22.8 530.1L20.5 531.0"/></g>
<g fill="none" stroke="#0000ff" stroke-width="1.1" stroke-linecap="butt" stroke-linejoin="miter"><title>halo−collapse models | e* = 0.1 | e* = 1.0</title><path d="M456.6 79.8L456.6 97.3M457.5 97.3L457.5 79.8L454.1 79.8M465.8 97.3L465.8 88.1L465.0 86.5L463.3 85.6L461.6 85.6L459.1 86.5L457.5 88.1M466.7 97.3L466.7 88.1L465.8 86.5L463.3 85.6M454.1 97.3L460.0 97.3M463.3 97.3L469.2 97.3M482.5 89.0L481.7 89.8L476.7 90.6L474.2 91.5L473.3 93.1L473.3 94.8L474.2 96.5L476.7 97.3L479.2 97.3L480.8 96.5L482.5 94.8L482.5 87.3L481.7 86.5L480.0 85.6L476.7 85.6L475.0 86.5L474.2 87.3L474.2 88.1L475.0 88.1L475.0 87.3M485.8 97.3L485.0 97.3L483.3 96.5L482.5 94.8M482.5 87.3L483.3 89.0L483.3 94.8L484.2 96.5L485.0 97.3M476.7 90.6L475.0 91.5L474.2 93.1L474.2 94.8L475.0 96.5L476.7 97.3M491.7 79.8L491.7 97.3M492.5 97.3L492.5 79.8L489.2 79.8M489.2 97.3L495.0 97.3M504.2 85.6L501.7 86.5L500.0 88.1L499.2 90.6L499.2 92.3L500.0 94.8L501.7 96.5L504.2 97.3L505.9 97.3L508.4 96.5L510.0 94.8L510.9 92.3L510.9 90.6L510.0 88.1L508.4 86.5L505.9 85.6L504.2 85.6L502.5 86.5L500.9 88.1L500.0 90.6L500.0 92.3L500.9 94.8L502.5 96.5L504.2 97.3M505.9 85.6L507.5 86.5L509.2 88.1L510.0 90.6L510.0 92.3L509.2 94.8L507.5 96.5L505.9 97.3M516.7 89.8L531.7 89.8M548.4 94.8L546.8 96.5L544.3 97.3L542.6 97.3L540.1 96.5L538.4 94.8L537.6 92.3L537.6 90.6L538.4 88.1L540.1 86.5L542.6 85.6L545.1 85.6L546.8 86.5L548.4 88.1L548.4 89.0L547.6 89.8L546.8 89.0L547.6 88.1M542.6 85.6L540.9 86.5L539.3 88.1L538.4 90.6L538.4 92.3L539.3 94.8L540.9 96.5L542.6 97.3M558.4 85.6L555.9 86.5L554.3 88.1L553.4 90.6L553.4 92.3L554.3 94.8L555.9 96.5L558.4 97.3L560.1 97.3L562.6 96.5L564.3 94.8L565.1 92.3L565.1 90.6L564.3 88.1L562.6 86.5L560.1 85.6L558.4 85.6L556.8 86.5L555.1 88.1L554.3 90.6L554.3 92.3L555.1 94.8L556.8 96.5L558.4 97.3M560.1 85.6L561.8 86.5L563.5 88.1L564.3 90.6L564.3 92.3L563.5 94.8L561.8 96.5L560.1 97.3M571.8 79.8L571.8 97.3M572.6 97.3L572.6 79.8L569.3 79.8M569.3 97.3L575.1 97.3M581.0 79.8L581.0 97.3M581.8 97.3L581.8 79.8L578.5 79.8M578.5 97.3L584.3 97.3M597.7 89.0L596.8 89.8L591.8 90.6L589.3 91.5L588.5 93.1L588.5 94.8L589.3 96.5L591.8 97.3L594.3 97.3L596.0 96.5L597.7 94.8L597.7 87.3L596.8 86.5L595.2 85.6L591.8 85.6L590.2 86.5L589.3 87.3L589.3 88.1L590.2 88.1L590.2 87.3M601.0 97.3L600.2 97.3L598.5 96.5L597.7 94.8M597.7 87.3L598.5 89.0L598.5 94.8L599.3 96.5L600.2 97.3M591.8 90.6L590.2 91.5L589.3 93.1L589.3 94.8L590.2 96.5L591.8 97.3M606.8 85.6L606.8 103.1M607.7 103.1L607.7 85.6L604.3 85.6M604.3 103.1L610.2 103.1M607.7 88.1L609.4 86.5L611.0 85.6L612.7 85.6L615.2 86.5L616.9 88.1L617.7 90.6L617.7 92.3L616.9 94.8L615.2 96.5L612.7 97.3L611.0 97.3L609.4 96.5L607.7 94.8M612.7 85.6L614.4 86.5L616.0 88.1L616.9 90.6L616.9 92.3L616.0 94.8L614.4 96.5L612.7 97.3M622.7 88.1L623.5 89.0L625.2 89.8L629.4 91.5L631.0 92.3L631.9 93.1L631.9 95.6L631.0 96.5L629.4 97.3L626.0 97.3L624.4 96.5L623.5 95.6L622.7 94.0L622.7 97.3L623.5 95.6M631.9 94.0L631.0 93.1L629.4 92.3L625.2 90.6L623.5 89.8L622.7 89.0L622.7 87.3L623.5 86.5L625.2 85.6L628.5 85.6L630.2 86.5L631.0 87.3L631.9 89.0L631.9 85.6L631.0 87.3M646.9 90.6L646.9 88.1L646.1 86.5L644.4 85.6L641.9 85.6L639.4 86.5L637.7 88.1L636.9 90.6L636.9 92.3L637.7 94.8L639.4 96.5L641.9 97.3L643.6 97.3L646.1 96.5L647.7 94.8M637.7 90.6L647.7 90.6L647.7 89.0L646.9 87.3L646.1 86.5M637.7 90.6L638.6 88.1L640.2 86.5L641.9 85.6M637.7 90.6L637.7 92.3L638.6 94.8L640.2 96.5L641.9 97.3M667.8 85.6L667.8 97.3M668.6 97.3L668.6 85.6L665.3 85.6M676.9 97.3L676.9 88.1L676.1 86.5L674.4 85.6L672.8 85.6L670.3 86.5L668.6 88.1M677.8 97.3L677.8 88.1L676.9 86.5L674.4 85.6M686.1 97.3L686.1 88.1L685.3 86.5L683.6 85.6L682.0 85.6L679.4 86.5L677.8 88.1M687.0 97.3L687.0 88.1L686.1 86.5L683.6 85.6M665.3 97.3L671.1 97.3M674.4 97.3L680.3 97.3M683.6 97.3L689.5 97.3M698.6 85.6L696.1 86.5L694.5 88.1L693.6 90.6L693.6 92.3L694.5 94.8L696.1 96.5L698.6 97.3L700.3 97.3L702.8 96.5L704.5 94.8L705.3 92.3L705.3 90.6L704.5 88.1L702.8 86.5L700.3 85.6L698.6 85.6L697.0 86.5L695.3 88.1L694.5 90.6L694.5 92.3L695.3 94.8L697.0 96.5L698.6 97.3M700.3 85.6L702.0 86.5L703.6 88.1L704.5 90.6L704.5 92.3L703.6 94.8L702.0 96.5L700.3 97.3M720.3 79.8L720.3 97.3L723.7 97.3M721.2 97.3L721.2 79.8L717.8 79.8M720.3 88.1L718.7 86.5L717.0 85.6L715.3 85.6L712.8 86.5L711.2 88.1L710.3 90.6L710.3 92.3L711.2 94.8L712.8 96.5L715.3 97.3L717.0 97.3L718.7 96.5L720.3 94.8M715.3 85.6L713.7 86.5L712.0 88.1L711.2 90.6L711.2 92.3L712.0 94.8L713.7 96.5L715.3 97.3M737.9 90.6L737.9 88.1L737.0 86.5L735.4 85.6L732.9 85.6L730.4 86.5L728.7 88.1L727.9 90.6L727.9 92.3L728.7 94.8L730.4 96.5L732.9 97.3L734.5 97.3L737.0 96.5L738.7 94.8M728.7 90.6L738.7 90.6L738.7 89.0L737.9 87.3L737.0 86.5M728.7 90.6L729.5 88.1L731.2 86.5L732.9 85.6M728.7 90.6L728.7 92.3L729.5 94.8L731.2 96.5L732.9 97.3M745.4 79.8L745.4 97.3M746.2 97.3L746.2 79.8L742.9 79.8M742.9 97.3L748.7 97.3M752.9 88.1L753.7 89.0L755.4 89.8L759.6 91.5L761.2 92.3L762.1 93.1L762.1 95.6L761.2 96.5L759.6 97.3L756.2 97.3L754.6 96.5L753.7 95.6L752.9 94.0L752.9 97.3L753.7 95.6M762.1 94.0L761.2 93.1L759.6 92.3L755.4 90.6L753.7 89.8L752.9 89.0L752.9 87.3L753.7 86.5L755.4 85.6L758.7 85.6L760.4 86.5L761.2 87.3L762.1 89.0L762.1 85.6L761.2 87.3M631.8 142.6L631.8 140.1L631.0 138.5L629.3 137.6L626.8 137.6L624.3 138.5L622.6 140.1L621.8 142.6L621.8 144.3L622.6 146.8L624.3 148.5L626.8 149.3L628.5 149.3L631.0 148.5L632.6 146.8M622.6 142.6L632.6 142.6L632.6 141.0L631.8 139.3L631.0 138.5M622.6 142.6L623.5 140.1L625.1 138.5L626.8 137.6M622.6 142.6L622.6 144.3L623.5 146.8L625.1 148.5L626.8 149.3M639.3 146.4L639.3 152.6M636.7 148.0L641.9 151.1M636.7 151.1L641.9 148.0M660.1 139.3L675.1 139.3M660.1 144.3L675.1 144.3M699.3 131.8L696.8 132.6L695.2 135.1L694.3 139.3L694.3 141.8L695.2 146.0L696.8 148.5L699.3 149.3L701.0 149.3L703.5 148.5L705.2 146.0L706.0 141.8L706.0 139.3L705.2 135.1L703.5 132.6L701.0 131.8L699.3 131.8L697.7 132.6L696.8 133.4L696.0 135.1L695.2 139.3L695.2 141.8L696.0 146.0L696.8 147.6L697.7 148.5L699.3 149.3M701.0 131.8L702.7 132.6L703.5 133.4L704.3 135.1L705.2 139.3L705.2 141.8L704.3 146.0L703.5 147.6L702.7 148.5L701.0 149.3M711.8 148.5L712.7 147.6L713.5 148.5L712.7 149.3L711.8 148.5M726.0 149.3L726.0 131.8L723.5 134.3L721.9 135.1M725.2 132.6L725.2 149.3M721.9 149.3L729.4 149.3M631.7 177.2L631.7 174.7L630.9 173.1L629.2 172.2L626.7 172.2L624.2 173.1L622.5 174.7L621.7 177.2L621.7 178.9L622.5 181.4L624.2 183.1L626.7 183.9L628.4 183.9L630.9 183.1L632.6 181.4M622.5 177.2L632.6 177.2L632.6 175.6L631.7 173.9L630.9 173.1M622.5 177.2L623.4 174.7L625.0 173.1L626.7 172.2M622.5 177.2L622.5 178.9L623.4 181.4L625.0 183.1L626.7 183.9M639.2 181.0L639.2 187.2M636.6 182.6L641.8 185.7M636.6 185.7L641.8 182.6M660.0 173.9L675.1 173.9M660.0 178.9L675.1 178.9M700.9 183.9L700.9 166.4L698.4 168.9L696.7 169.7M700.1 167.2L700.1 183.9M696.7 183.9L704.3 183.9M711.8 183.1L712.6 182.2L713.4 183.1L712.6 183.9L711.8 183.1M724.3 166.4L721.8 167.2L720.1 169.7L719.3 173.9L719.3 176.4L720.1 180.6L721.8 183.1L724.3 183.9L726.0 183.9L728.5 183.1L730.1 180.6L731.0 176.4L731.0 173.9L730.1 169.7L728.5 167.2L726.0 166.4L724.3 166.4L722.6 167.2L721.8 168.0L721.0 169.7L720.1 173.9L720.1 176.4L721.0 180.6L721.8 182.2L722.6 183.1L724.3 183.9M726.0 166.4L727.6 167.2L728.5 168.0L729.3 169.7L730.1 173.9L730.1 176.4L729.3 180.6L728.5 182.2L727.6 183.1L726.0 183.9"/></g>
<g fill="none" stroke="#00ff00" stroke-width="1.1" stroke-linecap="butt" stroke-linejoin="miter"><title>merger tree models | with SN feedback | MT−3a | MT−3b | MT−3c</title><path d="M155.4 553.5L155.4 565.2M156.2 565.2L156.2 553.5L152.9 553.5M164.6 565.2L164.6 556.0L163.8 554.4L162.1 553.5L160.4 553.5L157.9 554.4L156.2 556.0M165.5 565.2L165.5 556.0L164.6 554.4L162.1 553.5M173.8 565.2L173.8 556.0L173.0 554.4L171.3 553.5L169.6 553.5L167.1 554.4L165.5 556.0M174.7 565.2L174.7 556.0L173.8 554.4L171.3 553.5M152.9 565.2L158.8 565.2M162.1 565.2L168.0 565.2M171.3 565.2L177.2 565.2M191.4 558.6L191.4 556.0L190.6 554.4L188.9 553.5L186.4 553.5L183.9 554.4L182.2 556.0L181.4 558.6L181.4 560.2L182.2 562.7L183.9 564.4L186.4 565.2L188.1 565.2L190.6 564.4L192.3 562.7M182.2 558.6L192.3 558.6L192.3 556.9L191.4 555.2L190.6 554.4M182.2 558.6L183.0 556.0L184.7 554.4L186.4 553.5M182.2 558.6L182.2 560.2L183.0 562.7L184.7 564.4L186.4 565.2M199.0 553.5L199.0 565.2M199.8 565.2L199.8 553.5L196.4 553.5M196.4 565.2L202.3 565.2M199.8 558.6L200.6 556.0L202.3 554.4L204.0 553.5L206.5 553.5L207.3 554.4L207.3 555.2L206.5 556.0L205.7 555.2L206.5 554.4M214.0 565.2L211.5 566.1L210.7 567.8L210.7 568.6L211.5 570.3L214.0 571.1L219.1 571.1L221.6 570.3L222.4 568.6L222.4 567.8L221.6 566.1L219.1 565.2L214.9 565.2L212.4 564.4L211.5 563.6L211.5 562.7L212.4 561.1L213.2 560.2L212.4 558.6L212.4 556.9L213.2 555.2L214.0 554.4L215.7 553.5L217.4 553.5L219.1 554.4L219.9 555.2L220.7 556.9L220.7 558.6L219.9 560.2L219.1 561.1L217.4 561.9L215.7 561.9L214.0 561.1L213.2 560.2M211.5 563.6L212.4 565.2L214.9 566.1L219.1 566.1L221.6 566.9L222.4 567.8M214.0 554.4L213.2 556.0L213.2 559.4L214.0 561.1M219.1 554.4L219.9 556.0L219.9 559.4L219.1 561.1M219.9 555.2L220.7 554.4L222.4 553.5L222.4 554.4L220.7 554.4M237.5 558.6L237.5 556.0L236.6 554.4L235.0 553.5L232.5 553.5L229.9 554.4L228.3 556.0L227.4 558.6L227.4 560.2L228.3 562.7L229.9 564.4L232.5 565.2L234.1 565.2L236.6 564.4L238.3 562.7M228.3 558.6L238.3 558.6L238.3 556.9L237.5 555.2L236.6 554.4M228.3 558.6L229.1 556.0L230.8 554.4L232.5 553.5M228.3 558.6L228.3 560.2L229.1 562.7L230.8 564.4L232.5 565.2M245.0 553.5L245.0 565.2M245.9 565.2L245.9 553.5L242.5 553.5M242.5 565.2L248.4 565.2M245.9 558.6L246.7 556.0L248.4 554.4L250.0 553.5L252.5 553.5L253.4 554.4L253.4 555.2L252.5 556.0L251.7 555.2L252.5 554.4M272.6 547.7L272.6 561.9L273.5 564.4L275.2 565.2L276.8 565.2L278.5 564.4L279.3 562.7M273.5 547.7L273.5 561.9L274.3 564.4L275.2 565.2M270.1 553.5L276.8 553.5M285.2 553.5L285.2 565.2M286.0 565.2L286.0 553.5L282.7 553.5M282.7 565.2L288.6 565.2M286.0 558.6L286.9 556.0L288.6 554.4L290.2 553.5L292.7 553.5L293.6 554.4L293.6 555.2L292.7 556.0L291.9 555.2L292.7 554.4M307.8 558.6L307.8 556.0L307.0 554.4L305.3 553.5L302.8 553.5L300.3 554.4L298.6 556.0L297.8 558.6L297.8 560.2L298.6 562.7L300.3 564.4L302.8 565.2L304.5 565.2L307.0 564.4L308.7 562.7M298.6 558.6L308.7 558.6L308.7 556.9L307.8 555.2L307.0 554.4M298.6 558.6L299.4 556.0L301.1 554.4L302.8 553.5M298.6 558.6L298.6 560.2L299.4 562.7L301.1 564.4L302.8 565.2M323.7 558.6L323.7 556.0L322.9 554.4L321.2 553.5L318.7 553.5L316.2 554.4L314.5 556.0L313.7 558.6L313.7 560.2L314.5 562.7L316.2 564.4L318.7 565.2L320.4 565.2L322.9 564.4L324.6 562.7M314.5 558.6L324.6 558.6L324.6 556.9L323.7 555.2L322.9 554.4M314.5 558.6L315.4 556.0L317.0 554.4L318.7 553.5M314.5 558.6L314.5 560.2L315.4 562.7L317.0 564.4L318.7 565.2M344.7 553.5L344.7 565.2M345.5 565.2L345.5 553.5L342.2 553.5M353.9 565.2L353.9 556.0L353.0 554.4L351.4 553.5L349.7 553.5L347.2 554.4L345.5 556.0M354.7 565.2L354.7 556.0L353.9 554.4L351.4 553.5M363.1 565.2L363.1 556.0L362.2 554.4L360.6 553.5L358.9 553.5L356.4 554.4L354.7 556.0M363.9 565.2L363.9 556.0L363.1 554.4L360.6 553.5M342.2 565.2L348.0 565.2M351.4 565.2L357.2 565.2M360.6 565.2L366.4 565.2M375.6 553.5L373.1 554.4L371.5 556.0L370.6 558.6L370.6 560.2L371.5 562.7L373.1 564.4L375.6 565.2L377.3 565.2L379.8 564.4L381.5 562.7L382.3 560.2L382.3 558.6L381.5 556.0L379.8 554.4L377.3 553.5L375.6 553.5L374.0 554.4L372.3 556.0L371.5 558.6L371.5 560.2L372.3 562.7L374.0 564.4L375.6 565.2M377.3 553.5L379.0 554.4L380.7 556.0L381.5 558.6L381.5 560.2L380.7 562.7L379.0 564.4L377.3 565.2M397.4 547.7L397.4 565.2L400.8 565.2M398.3 565.2L398.3 547.7L394.9 547.7M397.4 556.0L395.7 554.4L394.1 553.5L392.4 553.5L389.9 554.4L388.2 556.0L387.4 558.6L387.4 560.2L388.2 562.7L389.9 564.4L392.4 565.2L394.1 565.2L395.7 564.4L397.4 562.7M392.4 553.5L390.7 554.4L389.0 556.0L388.2 558.6L388.2 560.2L389.0 562.7L390.7 564.4L392.4 565.2M415.0 558.6L415.0 556.0L414.2 554.4L412.5 553.5L410.0 553.5L407.5 554.4L405.8 556.0L405.0 558.6L405.0 560.2L405.8 562.7L407.5 564.4L410.0 565.2L411.7 565.2L414.2 564.4L415.8 562.7M405.8 558.6L415.8 558.6L415.8 556.9L415.0 555.2L414.2 554.4M405.8 558.6L406.6 556.0L408.3 554.4L410.0 553.5M405.8 558.6L405.8 560.2L406.6 562.7L408.3 564.4L410.0 565.2M422.5 547.7L422.5 565.2M423.4 565.2L423.4 547.7L420.0 547.7M420.0 565.2L425.9 565.2M430.1 556.0L430.9 556.9L432.6 557.7L436.8 559.4L438.5 560.2L439.3 561.1L439.3 563.6L438.5 564.4L436.8 565.2L433.4 565.2L431.8 564.4L430.9 563.6L430.1 561.9L430.1 565.2L430.9 563.6M439.3 561.9L438.5 561.1L436.8 560.2L432.6 558.6L430.9 557.7L430.1 556.9L430.1 555.2L430.9 554.4L432.6 553.5L435.9 553.5L437.6 554.4L438.5 555.2L439.3 556.9L439.3 553.5L438.5 555.2M154.8 588.0L158.2 599.8L161.5 588.0L164.9 599.8L168.2 588.0M155.6 588.0L158.2 597.2M162.3 588.0L164.9 597.2M152.3 588.0L158.2 588.0M165.7 588.0L170.7 588.0M175.8 588.0L175.8 599.8M176.6 599.8L176.6 588.0L173.2 588.0M173.2 599.8L179.1 599.8M174.9 583.0L175.8 582.2L176.6 583.0L175.8 583.8L174.9 583.0M185.0 582.2L185.0 596.4L185.8 598.9L187.5 599.8L189.2 599.8L190.8 598.9L191.7 597.2M185.8 582.2L185.8 596.4L186.6 598.9L187.5 599.8M182.5 588.0L189.2 588.0M197.5 582.2L197.5 599.8M198.4 599.8L198.4 582.2L195.0 582.2M206.8 599.8L206.8 590.5L205.9 588.9L204.2 588.0L202.6 588.0L200.1 588.9L198.4 590.5M207.6 599.8L207.6 590.5L206.8 588.9L204.2 588.0M195.0 599.8L200.9 599.8M204.2 599.8L210.1 599.8M239.4 593.9L239.4 597.2L237.8 598.9L235.2 599.8L232.7 599.8L230.2 598.9L228.5 597.2L227.7 594.7L227.7 599.8L228.5 597.2M239.4 593.9L237.8 592.2L236.1 591.4L231.1 589.7L229.4 588.9L228.5 588.0L227.7 586.3L227.7 584.7L229.4 583.0L231.9 582.2L234.4 582.2L236.9 583.0L238.6 584.7L239.4 587.2L239.4 582.2L238.6 584.7M239.4 593.9L238.6 592.2L237.8 591.4L236.1 590.5L231.1 588.9L229.4 588.0L227.7 586.3M257.0 598.1L247.0 582.2L243.6 582.2M247.0 583.8L257.0 599.8L257.0 582.2M246.1 582.2L246.1 599.8M243.6 599.8L248.7 599.8M254.5 582.2L259.5 582.2M278.8 599.8L278.8 584.7L279.7 583.0L281.3 582.2L283.0 582.2L283.8 583.0L283.8 583.8L283.0 584.7L282.2 583.8L283.0 583.0M279.7 599.8L279.7 584.7L280.5 583.0L281.3 582.2M276.3 588.0L283.0 588.0M276.3 599.8L282.2 599.8M298.1 593.0L298.1 590.5L297.3 588.9L295.6 588.0L293.1 588.0L290.5 588.9L288.9 590.5L288.0 593.0L288.0 594.7L288.9 597.2L290.5 598.9L293.1 599.8L294.7 599.8L297.3 598.9L298.9 597.2M288.9 593.0L298.9 593.0L298.9 591.4L298.1 589.7L297.3 588.9M288.9 593.0L289.7 590.5L291.4 588.9L293.1 588.0M288.9 593.0L288.9 594.7L289.7 597.2L291.4 598.9L293.1 599.8M314.0 593.0L314.0 590.5L313.2 588.9L311.5 588.0L309.0 588.0L306.5 588.9L304.8 590.5L304.0 593.0L304.0 594.7L304.8 597.2L306.5 598.9L309.0 599.8L310.7 599.8L313.2 598.9L314.8 597.2M304.8 593.0L314.8 593.0L314.8 591.4L314.0 589.7L313.2 588.9M304.8 593.0L305.6 590.5L307.3 588.9L309.0 588.0M304.8 593.0L304.8 594.7L305.6 597.2L307.3 598.9L309.0 599.8M329.9 582.2L329.9 599.8L333.3 599.8M330.8 599.8L330.8 582.2L327.4 582.2M329.9 590.5L328.3 588.9L326.6 588.0L324.9 588.0L322.4 588.9L320.7 590.5L319.9 593.0L319.9 594.7L320.7 597.2L322.4 598.9L324.9 599.8L326.6 599.8L328.3 598.9L329.9 597.2M324.9 588.0L323.2 588.9L321.6 590.5L320.7 593.0L320.7 594.7L321.6 597.2L323.2 598.9L324.9 599.8M339.1 582.2L339.1 599.8M340.0 599.8L340.0 582.2L336.6 582.2M340.0 590.5L341.7 588.9L343.3 588.0L345.0 588.0L347.5 588.9L349.2 590.5L350.0 593.0L350.0 594.7L349.2 597.2L347.5 598.9L345.0 599.8L343.3 599.8L341.7 598.9L340.0 597.2M345.0 588.0L346.7 588.9L348.4 590.5L349.2 593.0L349.2 594.7L348.4 597.2L346.7 598.9L345.0 599.8M364.3 591.4L363.4 592.2L358.4 593.0L355.9 593.9L355.1 595.6L355.1 597.2L355.9 598.9L358.4 599.8L360.9 599.8L362.6 598.9L364.3 597.2L364.3 589.7L363.4 588.9L361.8 588.0L358.4 588.0L356.7 588.9L355.9 589.7L355.9 590.5L356.7 590.5L356.7 589.7M367.6 599.8L366.8 599.8L365.1 598.9L364.3 597.2M364.3 589.7L365.1 591.4L365.1 597.2L366.0 598.9L366.8 599.8M358.4 593.0L356.7 593.9L355.9 595.6L355.9 597.2L356.7 598.9L358.4 599.8M382.7 597.2L381.0 598.9L378.5 599.8L376.9 599.8L374.3 598.9L372.7 597.2L371.8 594.7L371.8 593.0L372.7 590.5L374.3 588.9L376.9 588.0L379.4 588.0L381.0 588.9L382.7 590.5L382.7 591.4L381.9 592.2L381.0 591.4L381.9 590.5M376.9 588.0L375.2 588.9L373.5 590.5L372.7 593.0L372.7 594.7L373.5 597.2L375.2 598.9L376.9 599.8M389.4 582.2L389.4 599.8M390.3 599.8L390.3 582.2L386.9 582.2M390.3 596.4L398.6 588.0M393.6 593.0L398.6 599.8M394.4 593.0L399.5 599.8M386.9 599.8L392.8 599.8M396.1 588.0L401.2 588.0M396.1 599.8L401.2 599.8M323.0 634.9L323.0 617.4L328.8 634.9L334.7 617.4L338.0 617.4M334.7 634.9L334.7 617.4M335.5 617.4L335.5 634.9M328.8 632.4L323.8 617.4L320.5 617.4M332.2 634.9L338.0 634.9M320.5 634.9L325.5 634.9M347.2 617.4L347.2 634.9M348.0 617.4L348.0 634.9M344.7 634.9L350.5 634.9M342.2 617.4L341.3 622.4L341.3 617.4L353.8 617.4L353.8 622.4L353.0 617.4M358.9 627.4L373.9 627.4M389.7 626.6L390.6 629.1L390.6 631.6L389.7 633.2L388.9 634.1L387.2 634.9L383.9 634.9L381.4 634.1L380.6 633.2L379.7 631.6L379.7 630.7L380.6 629.9L381.4 630.7L380.6 631.6M384.7 624.9L387.2 624.9L389.7 624.1L390.6 622.4L390.6 619.9L389.7 618.2L387.2 617.4L383.9 617.4L381.4 618.2L380.6 619.0L379.7 620.7L379.7 621.5L380.6 622.4L381.4 621.5L380.6 620.7M387.2 617.4L388.9 618.2L389.7 619.9L389.7 622.4L388.9 624.1L387.2 624.9L388.9 625.7L390.6 627.4L391.4 629.1L391.4 631.6L390.6 633.2L389.7 634.1L387.2 634.9M405.6 626.6L404.8 627.4L399.7 628.2L397.2 629.1L396.4 630.7L396.4 632.4L397.2 634.1L399.7 634.9L402.2 634.9L403.9 634.1L405.6 632.4L405.6 624.9L404.8 624.1L403.1 623.2L399.7 623.2L398.1 624.1L397.2 624.9L397.2 625.7L398.1 625.7L398.1 624.9M408.9 634.9L408.1 634.9L406.4 634.1L405.6 632.4M405.6 624.9L406.4 626.6L406.4 632.4L407.3 634.1L408.1 634.9M399.7 628.2L398.1 629.1L397.2 630.7L397.2 632.4L398.1 634.1L399.7 634.9M323.0 669.4L323.0 651.9L328.8 669.4L334.7 651.9L338.0 651.9M334.7 669.4L334.7 651.9M335.5 651.9L335.5 669.4M328.8 666.9L323.8 651.9L320.5 651.9M332.2 669.4L338.0 669.4M320.5 669.4L325.5 669.4M347.2 651.9L347.2 669.4M348.0 651.9L348.0 669.4M344.7 669.4L350.5 669.4M342.2 651.9L341.3 656.9L341.3 651.9L353.8 651.9L353.8 656.9L353.0 651.9M358.9 661.9L373.9 661.9M389.7 661.1L390.6 663.6L390.6 666.1L389.7 667.7L388.9 668.6L387.2 669.4L383.9 669.4L381.4 668.6L380.6 667.7L379.7 666.1L379.7 665.2L380.6 664.4L381.4 665.2L380.6 666.1M384.7 659.4L387.2 659.4L389.7 658.6L390.6 656.9L390.6 654.4L389.7 652.7L387.2 651.9L383.9 651.9L381.4 652.7L380.6 653.5L379.7 655.2L379.7 656.0L380.6 656.9L381.4 656.0L380.6 655.2M387.2 651.9L388.9 652.7L389.7 654.4L389.7 656.9L388.9 658.6L387.2 659.4L388.9 660.2L390.6 661.9L391.4 663.6L391.4 666.1L390.6 667.7L389.7 668.6L387.2 669.4M398.1 651.9L398.1 669.4M398.9 669.4L398.9 651.9L395.6 651.9M398.9 660.2L400.6 658.6L402.2 657.7L403.9 657.7L406.4 658.6L408.1 660.2L408.9 662.7L408.9 664.4L408.1 666.9L406.4 668.6L403.9 669.4L402.2 669.4L400.6 668.6L398.9 666.9M403.9 657.7L405.6 658.6L407.3 660.2L408.1 662.7L408.1 664.4L407.3 666.9L405.6 668.6L403.9 669.4M323.0 703.9L323.0 686.4L328.8 703.9L334.7 686.4L338.0 686.4M334.7 703.9L334.7 686.4M335.5 686.4L335.5 703.9M328.8 701.4L323.8 686.4L320.5 686.4M332.2 703.9L338.0 703.9M320.5 703.9L325.5 703.9M347.2 686.4L347.2 703.9M348.0 686.4L348.0 703.9M344.7 703.9L350.5 703.9M342.2 686.4L341.3 691.4L341.3 686.4L353.8 686.4L353.8 691.4L353.0 686.4M358.9 696.4L373.9 696.4M389.7 695.6L390.6 698.1L390.6 700.6L389.7 702.2L388.9 703.1L387.2 703.9L383.9 703.9L381.4 703.1L380.6 702.2L379.7 700.6L379.7 699.7L380.6 698.9L381.4 699.7L380.6 700.6M384.7 693.9L387.2 693.9L389.7 693.1L390.6 691.4L390.6 688.9L389.7 687.2L387.2 686.4L383.9 686.4L381.4 687.2L380.6 688.0L379.7 689.7L379.7 690.5L380.6 691.4L381.4 690.5L380.6 689.7M387.2 686.4L388.9 687.2L389.7 688.9L389.7 691.4L388.9 693.1L387.2 693.9L388.9 694.7L390.6 696.4L391.4 698.1L391.4 700.6L390.6 702.2L389.7 703.1L387.2 703.9M407.3 701.4L405.6 703.1L403.1 703.9L401.4 703.9L398.9 703.1L397.2 701.4L396.4 698.9L396.4 697.2L397.2 694.7L398.9 693.1L401.4 692.2L403.9 692.2L405.6 693.1L407.3 694.7L407.3 695.6L406.4 696.4L405.6 695.6L406.4 694.7M401.4 692.2L399.7 693.1L398.1 694.7L397.2 697.2L397.2 698.9L398.1 701.4L399.7 703.1L401.4 703.9"/></g>
<g fill="none" stroke="#00ffff" stroke-width="1.1" stroke-linecap="butt" stroke-linejoin="miter"><title>Springel | &amp; Hernquist</title><path d="M600.2 663.9L600.2 667.2L598.5 668.9L596.0 669.7L593.5 669.7L591.0 668.9L589.3 667.2L588.5 664.7L588.5 669.7L589.3 667.2M600.2 663.9L598.5 662.2L596.8 661.4L591.8 659.7L590.2 658.9L589.3 658.0L588.5 656.3L588.5 654.7L590.2 653.0L592.7 652.2L595.2 652.2L597.7 653.0L599.4 654.7L600.2 657.2L600.2 652.2L599.4 654.7M600.2 663.9L599.4 662.2L598.5 661.4L596.8 660.5L591.8 658.9L590.2 658.0L588.5 656.3M606.9 658.0L606.9 675.5M607.7 675.5L607.7 658.0L604.4 658.0M604.4 675.5L610.2 675.5M607.7 660.5L609.4 658.9L611.0 658.0L612.7 658.0L615.2 658.9L616.9 660.5L617.7 663.0L617.7 664.7L616.9 667.2L615.2 668.9L612.7 669.7L611.0 669.7L609.4 668.9L607.7 667.2M612.7 658.0L614.4 658.9L616.0 660.5L616.9 663.0L616.9 664.7L616.0 667.2L614.4 668.9L612.7 669.7M624.4 658.0L624.4 669.7M625.2 669.7L625.2 658.0L621.9 658.0M621.9 669.7L627.7 669.7M625.2 663.0L626.1 660.5L627.7 658.9L629.4 658.0L631.9 658.0L632.7 658.9L632.7 659.7L631.9 660.5L631.1 659.7L631.9 658.9M638.6 658.0L638.6 669.7M639.4 669.7L639.4 658.0L636.1 658.0M636.1 669.7L641.9 669.7M637.7 653.0L638.6 652.2L639.4 653.0L638.6 653.8L637.7 653.0M647.8 658.0L647.8 669.7M648.6 669.7L648.6 658.0L645.2 658.0M656.9 669.7L656.9 660.5L656.1 658.9L654.4 658.0L652.8 658.0L650.3 658.9L648.6 660.5M657.8 669.7L657.8 660.5L656.9 658.9L654.4 658.0M645.2 669.7L651.1 669.7M654.4 669.7L660.3 669.7M666.9 669.7L664.4 670.5L663.6 672.2L663.6 673.0L664.4 674.7L666.9 675.5L672.0 675.5L674.5 674.7L675.3 673.0L675.3 672.2L674.5 670.5L672.0 669.7L667.8 669.7L665.3 668.9L664.4 668.0L664.4 667.2L665.3 665.5L666.1 664.7L665.3 663.0L665.3 661.4L666.1 659.7L666.9 658.9L668.6 658.0L670.3 658.0L672.0 658.9L672.8 659.7L673.6 661.4L673.6 663.0L672.8 664.7L672.0 665.5L670.3 666.4L668.6 666.4L666.9 665.5L666.1 664.7M664.4 668.0L665.3 669.7L667.8 670.5L672.0 670.5L674.5 671.4L675.3 672.2M666.9 658.9L666.1 660.5L666.1 663.9L666.9 665.5M672.0 658.9L672.8 660.5L672.8 663.9L672.0 665.5M672.8 659.7L673.6 658.9L675.3 658.0L675.3 658.9L673.6 658.9M690.3 663.0L690.3 660.5L689.5 658.9L687.8 658.0L685.3 658.0L682.8 658.9L681.1 660.5L680.3 663.0L680.3 664.7L681.1 667.2L682.8 668.9L685.3 669.7L687.0 669.7L689.5 668.9L691.1 667.2M681.1 663.0L691.1 663.0L691.1 661.4L690.3 659.7L689.5 658.9M681.1 663.0L682.0 660.5L683.6 658.9L685.3 658.0M681.1 663.0L681.1 664.7L682.0 667.2L683.6 668.9L685.3 669.7M697.8 652.2L697.8 669.7M698.7 669.7L698.7 652.2L695.3 652.2M695.3 669.7L701.2 669.7M591.8 695.7L590.2 697.3L589.3 699.0L589.3 701.5L590.2 703.2L591.8 704.0L594.3 704.0L596.0 703.2L597.7 701.5L599.4 699.0L601.0 694.8L601.9 693.2L602.7 692.3L603.5 692.3L604.4 693.2L604.4 694.0L603.5 694.8L602.7 694.0L603.5 693.2M604.4 702.3L604.4 703.2L603.5 704.0L602.7 704.0L600.2 703.2L598.5 701.5L592.7 693.2L591.8 690.6L591.8 689.0L592.7 687.3L594.3 686.5L596.0 687.3L596.8 689.0L596.8 690.6L596.0 692.3L594.3 694.0L589.3 697.3L588.5 699.0L588.5 701.5L589.3 703.2L591.8 704.0M591.8 690.6L592.7 692.3L599.4 701.5L601.0 703.2L602.7 704.0M624.4 686.5L624.4 704.0M625.2 686.5L625.2 704.0M635.2 686.5L635.2 704.0M636.1 686.5L636.1 704.0M625.2 694.8L635.2 694.8M621.9 686.5L627.7 686.5M621.9 704.0L627.7 704.0M632.7 686.5L638.6 686.5M632.7 704.0L638.6 704.0M652.8 697.3L652.8 694.8L651.9 693.2L650.3 692.3L647.8 692.3L645.2 693.2L643.6 694.8L642.7 697.3L642.7 699.0L643.6 701.5L645.2 703.2L647.8 704.0L649.4 704.0L651.9 703.2L653.6 701.5M643.6 697.3L653.6 697.3L653.6 695.7L652.8 694.0L651.9 693.2M643.6 697.3L644.4 694.8L646.1 693.2L647.8 692.3M643.6 697.3L643.6 699.0L644.4 701.5L646.1 703.2L647.8 704.0M660.3 692.3L660.3 704.0M661.1 704.0L661.1 692.3L657.8 692.3M657.8 704.0L663.6 704.0M661.1 697.3L661.9 694.8L663.6 693.2L665.3 692.3L667.8 692.3L668.6 693.2L668.6 694.0L667.8 694.8L666.9 694.0L667.8 693.2M674.5 692.3L674.5 704.0M675.3 704.0L675.3 692.3L672.0 692.3M683.6 704.0L683.6 694.8L682.8 693.2L681.1 692.3L679.5 692.3L677.0 693.2L675.3 694.8M684.5 704.0L684.5 694.8L683.6 693.2L681.1 692.3M672.0 704.0L677.8 704.0M681.1 704.0L687.0 704.0M701.2 692.3L701.2 709.8M702.0 692.3L702.0 709.8M698.7 709.8L704.5 709.8M701.2 694.8L699.5 693.2L697.8 692.3L696.2 692.3L693.7 693.2L692.0 694.8L691.1 697.3L691.1 699.0L692.0 701.5L693.7 703.2L696.2 704.0L697.8 704.0L699.5 703.2L701.2 701.5M696.2 692.3L694.5 693.2L692.8 694.8L692.0 697.3L692.0 699.0L692.8 701.5L694.5 703.2L696.2 704.0M718.7 692.3L718.7 704.0L722.0 704.0M719.5 704.0L719.5 692.3L716.2 692.3M709.5 692.3L709.5 701.5L710.3 703.2L712.8 704.0L714.5 704.0L717.0 703.2L718.7 701.5M707.0 692.3L710.3 692.3L710.3 701.5L711.2 703.2L712.8 704.0M727.9 692.3L727.9 704.0M728.7 704.0L728.7 692.3L725.4 692.3M725.4 704.0L731.2 704.0M727.0 687.3L727.9 686.5L728.7 687.3L727.9 688.1L727.0 687.3M735.4 694.8L736.2 695.7L737.9 696.5L742.1 698.2L743.7 699.0L744.6 699.8L744.6 702.3L743.7 703.2L742.1 704.0L738.7 704.0L737.0 703.2L736.2 702.3L735.4 700.7L735.4 704.0L736.2 702.3M744.6 700.7L743.7 699.8L742.1 699.0L737.9 697.3L736.2 696.5L735.4 695.7L735.4 694.0L736.2 693.2L737.9 692.3L741.2 692.3L742.9 693.2L743.7 694.0L744.6 695.7L744.6 692.3L743.7 694.0M751.2 686.5L751.2 700.7L752.1 703.2L753.7 704.0L755.4 704.0L757.1 703.2L757.9 701.5M752.1 686.5L752.1 700.7L752.9 703.2L753.7 704.0M748.7 692.3L755.4 692.3"/></g>
<g fill="none" stroke="#ff00ff" stroke-width="1.1" stroke-linecap="butt" stroke-linejoin="miter"><title>Pop III</title><path d="M457.0 443.9L457.0 461.4M457.8 443.9L457.8 461.4M454.5 443.9L464.5 443.9L467.0 444.7L467.8 445.5L468.7 447.2L468.7 449.7L467.8 451.4L467.0 452.2L464.5 453.1L457.8 453.1M454.5 461.4L460.3 461.4M464.5 443.9L466.2 444.7L467.0 445.5L467.8 447.2L467.8 449.7L467.0 451.4L466.2 452.2L464.5 453.1M478.7 449.7L476.2 450.6L474.5 452.2L473.7 454.7L473.7 456.4L474.5 458.9L476.2 460.6L478.7 461.4L480.4 461.4L482.9 460.6L484.5 458.9L485.4 456.4L485.4 454.7L484.5 452.2L482.9 450.6L480.4 449.7L478.7 449.7L477.0 450.6L475.3 452.2L474.5 454.7L474.5 456.4L475.3 458.9L477.0 460.6L478.7 461.4M480.4 449.7L482.0 450.6L483.7 452.2L484.5 454.7L484.5 456.4L483.7 458.9L482.0 460.6L480.4 461.4M492.0 449.7L492.0 467.2M492.9 467.2L492.9 449.7L489.5 449.7M489.5 467.2L495.4 467.2M492.9 452.2L494.5 450.6L496.2 449.7L497.9 449.7L500.4 450.6L502.1 452.2L502.9 454.7L502.9 456.4L502.1 458.9L500.4 460.6L497.9 461.4L496.2 461.4L494.5 460.6L492.9 458.9M497.9 449.7L499.5 450.6L501.2 452.2L502.1 454.7L502.1 456.4L501.2 458.9L499.5 460.6L497.9 461.4M522.9 443.9L522.9 461.4M523.8 443.9L523.8 461.4M520.4 443.9L526.3 443.9M520.4 461.4L526.3 461.4M532.1 443.9L532.1 461.4M532.9 443.9L532.9 461.4M529.6 443.9L535.4 443.9M529.6 461.4L535.4 461.4M541.3 443.9L541.3 461.4M542.1 443.9L542.1 461.4M538.8 443.9L544.6 443.9M538.8 461.4L544.6 461.4"/></g>
<circle cx="28.05" cy="425.3" r="5.4" fill="none" stroke="#000" stroke-width="1.1"/><circle cx="27.9" cy="425.4" r="1.15" fill="#000"/>
<circle cx="8.9" cy="526.5" r="1.25" fill="#000"/>
</g>
</svg>
<span class="t " style="left:77px;top:31px;">10</span>
<span class="t " style="left:90px;top:130px;">1</span>
<span class="t " style="left:64px;top:229px;">0.1</span>
<span class="t " style="left:51px;top:328px;">0.01</span>
<span class="t " style="left:50px;top:427px;">10<sup>−3</sup></span>
<span class="t " style="left:50px;top:526px;">10<sup>−4</sup></span>
<span class="t " style="left:50px;top:625px;">10<sup>−5</sup></span>
<span class="t " style="left:50px;top:724px;">10<sup>−6</sup></span>
<span class="t " style="left:173px;top:748px;">5</span>
<span class="t " style="left:288px;top:748px;">10</span>
<span class="t " style="left:409px;top:748px;">15</span>
<span class="t " style="left:531px;top:748px;">20</span>
<span class="t " style="left:652px;top:748px;">25</span>
<span class="t " style="left:774px;top:748px;">30</span>
<span class="t " style="left:397px;top:782px;">redshift</span>
<span class="t b" style="left:454px;top:74px;">halo−collapse models</span>
<span class="t b" style="left:621px;top:126px;">e<sub>*</sub> = 0.1</span>
<span class="t b" style="left:621px;top:161px;">e<sub>*</sub> = 1.0</span>
<span class="t m" style="left:454px;top:438px;">Pop III</span>
<span class="t g" style="left:153px;top:542px;">merger tree models</span>
<span class="t g" style="left:153px;top:577px;">with SN feedback</span>
<span class="t g" style="left:320px;top:612px;">MT−3a</span>
<span class="t g" style="left:320px;top:646px;">MT−3b</span>
<span class="t g" style="left:320px;top:681px;">MT−3c</span>
<span class="t c" style="left:588px;top:647px;">Springel</span>
<span class="t c" style="left:588px;top:681px;">&amp; Hernquist</span>
<span class="t" style="left:2px;top:537px;transform-origin:0 0;transform:rotate(-90deg)">ρ̇<sub>*</sub> (h M<sub>⊙</sub> yr<sup>−1</sup> Mpc<sup>−3</sup>)</span>
</div>
</body></html>
